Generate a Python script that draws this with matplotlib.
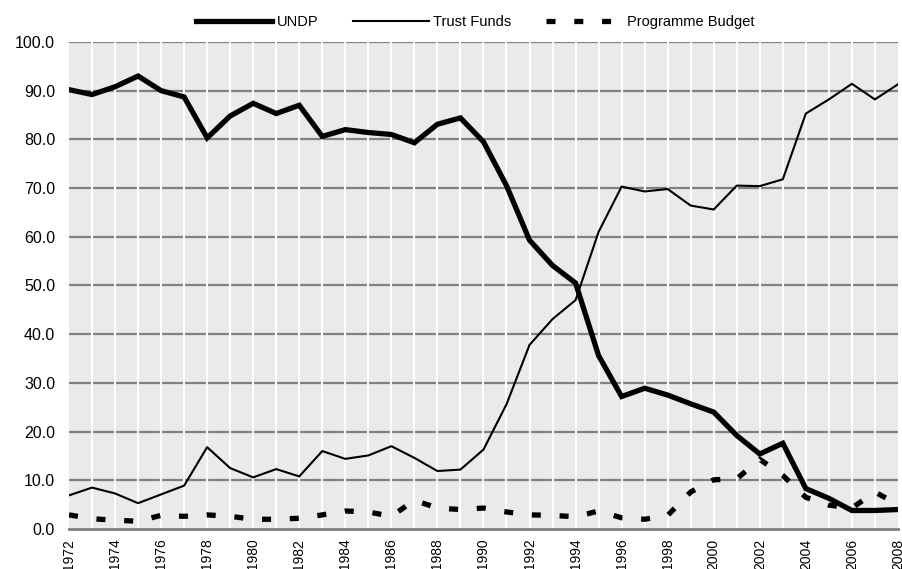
import matplotlib.pyplot as plt
import numpy as np

plt.rcParams['font.family'] = ['Liberation Sans', 'DejaVu Sans']
plt.rcParams['lines.scale_dashes'] = False

years = list(range(1972, 2009))
undp = [90.2, 89.2, 90.8, 93.0, 90.0, 88.7, 80.3, 84.8, 87.4, 85.3,
        87.0, 80.6, 82.0, 81.4, 81.0, 79.3, 83.1, 84.4, 79.5, 70.5,
        59.3, 54.1, 50.5, 35.6, 27.2, 28.9, 27.5, 25.7, 24.0, 19.2,
        15.4, 17.6, 8.3, 6.3, 3.8, 3.8, 4.0]
trust_funds = [6.9, 8.5, 7.3, 5.3, 7.1, 8.9, 16.8, 12.5, 10.6, 12.3,
               10.8, 16.0, 14.4, 15.1, 17.0, 14.6, 11.9, 12.2, 16.3, 25.6,
               37.8, 43.1, 47.0, 61.0, 70.3, 69.3, 69.8, 66.4, 65.6, 70.5,
               70.4, 71.8, 85.3, 88.2, 91.4, 88.2, 91.3]
prog_budget = [2.9, 2.1, 1.8, 1.6, 2.8, 2.6, 2.9, 2.6, 2.0, 2.0,
               2.2, 2.9, 3.7, 3.5, 2.6, 5.9, 4.3, 4.0, 4.3, 3.5,
               2.9, 2.8, 2.5, 3.7, 2.3, 2.0, 2.8, 7.6, 10.1, 10.3,
               14.3, 11.0, 6.5, 4.9, 4.3, 7.6, 5.0]
year_ticks = list(range(1972, 2009, 2))
y_ticks = np.arange(0, 101, 10)

fig = plt.figure(figsize=(9.03, 5.69), dpi=100)
ax = fig.add_axes([0.0764, 0.0703, 0.918, 0.856])
ax.set_facecolor('#eaeaea')

# grid: grey horizontals, white verticals over them
for v in y_ticks[1:]:
    ax.axhline(v, color='#808080', lw=1.6, zorder=1)
for yr in years[1:-1]:
    ax.axvline(yr, color='white', lw=1.5, zorder=2)

ax.plot(years, undp, color='black', lw=3.8, label='UNDP', zorder=5,
        solid_joinstyle='miter')
ax.plot(years, trust_funds, color='black', lw=1.5, label='Trust Funds', zorder=5)
ax.plot(years, prog_budget, color='black', lw=3.8, dashes=(6.5, 13.5),
        label='Programme Budget', zorder=4)

ax.set_xlim(1972, 2008)
ax.set_ylim(0, 100)
ax.set_xticks(year_ticks)
ax.set_xticklabels([str(y) for y in year_ticks], rotation=90, fontsize=10)
ax.set_yticks(y_ticks)
ax.set_yticklabels(['%.1f' % v for v in y_ticks], fontsize=11.5)
ax.tick_params(axis='y', length=0, pad=10)
ax.tick_params(axis='x', length=0, pad=7)

for s in ['top', 'right', 'left']:
    ax.spines[s].set_visible(False)
ax.spines['bottom'].set_color('#808080')
ax.spines['bottom'].set_linewidth(2)
ax.spines['bottom'].set_zorder(3)

ax.legend(loc='lower center', bbox_to_anchor=(0.49, 1.005), ncol=3, frameon=False,
          fontsize=10.5, handlelength=5.2, handletextpad=0.3, columnspacing=2.4,
          borderaxespad=0.3)

fig.savefig('out.png', dpi=100)
